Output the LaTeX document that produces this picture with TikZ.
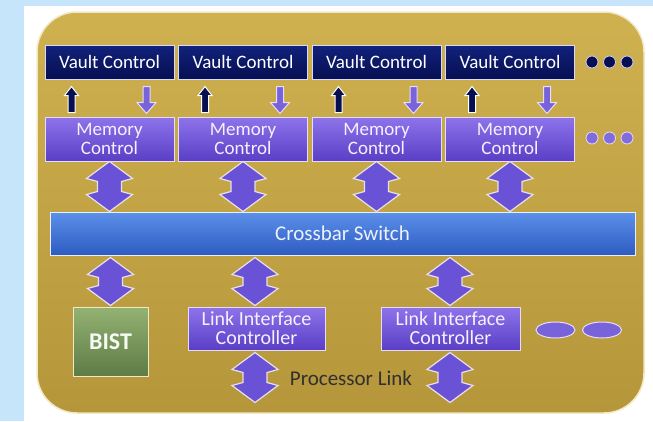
\documentclass[tikz,border=0pt]{standalone}
\usepackage{fontspec}
\setmainfont{Carlito}
\usetikzlibrary{shapes.geometric,calc}
\definecolor{skyblue}{HTML}{C6E5FB}
\definecolor{goldtop}{HTML}{CFB150}
\definecolor{goldbot}{HTML}{B5963A}
\definecolor{goldrim}{HTML}{F2E8C4}
\definecolor{navytop}{HTML}{12227C}
\definecolor{navybot}{HTML}{060F52}
\definecolor{purptop}{HTML}{8E74EA}
\definecolor{purpbot}{HTML}{5A3EC6}
\definecolor{purpfill}{HTML}{6A52D6}
\definecolor{purprim}{HTML}{E4DCF8}
\definecolor{bluetop}{HTML}{5C90EA}
\definecolor{bluebot}{HTML}{2E5CC2}
\definecolor{greentop}{HTML}{94B272}
\definecolor{greenbot}{HTML}{5D7C46}
\definecolor{inktext}{HTML}{303030}
\tikzset{
  box/.style={rectangle, inner sep=0pt, line width=1pt, align=center},
  vault/.style={box, top color=navytop, bottom color=navybot, draw=white!85!blue,
    minimum width=129pt, minimum height=34pt, text=white,
    font=\fontsize{19}{19}\selectfont},
  memctl/.style={box, top color=purptop, bottom color=purpbot, draw=purprim,
    minimum width=129pt, minimum height=44pt, text=white!90!purptop,
    font=\fontsize{19}{19.5}\selectfont},
  xbarbox/.style={box, top color=bluetop, bottom color=bluebot, draw=white!85!bluetop,
    minimum width=585pt, minimum height=43pt, text=white!88!bluetop,
    font=\fontsize{21}{21}\selectfont},
  bistbox/.style={box, top color=greentop, bottom color=greenbot, draw=goldrim,
    minimum width=75pt, minimum height=69pt, text=white!92!greentop,
    font=\fontsize{24}{24}\selectfont\bfseries},
  licbox/.style={box, top color=purptop, bottom color=purpbot, draw=purprim,
    minimum height=43pt, text=white!90!purptop,
    font=\fontsize{20}{19}\selectfont},
  navydot/.style={circle, inner sep=0pt, minimum size=12pt, fill=navybot, draw=white!80!blue, line width=0.8pt},
  purpdot/.style={circle, inner sep=0pt, minimum size=12pt, fill=purpfill!85!white, draw=purprim, line width=0.8pt},
  purpoval/.style={ellipse, inner sep=0pt, minimum width=39pt, minimum height=16pt, fill=purpfill!90!white, draw=purprim, line width=1pt},
  bigarrow/.style={fill=purpfill, draw=purprim!70!goldrim, line width=1.2pt, line join=miter},
  uparrow/.style={fill=navybot, draw=white, line width=1pt},
  dnarrow/.style={fill=purpfill!90!white, draw=purprim, line width=1pt},
  pics/dblarr/.style={code={
    \draw[bigarrow] (0,0) -- (23,17) -- (12,20) -- (12,{#1-20}) -- (23,{#1-17})
      -- (0,#1) -- (-23,{#1-17}) -- (-12,{#1-20}) -- (-12,20) -- (-23,17) -- cycle;}},
  pics/uparr/.style={code={
    \draw[uparrow] (0,0) -- (7,9) -- (3.5,9) -- (3.5,26) -- (-3.5,26) -- (-3.5,9) -- (-7,9) -- cycle;}},
  pics/dnarr/.style={code={
    \draw[dnarrow] (-3.5,0) -- (3.5,0) -- (3.5,16) -- (9.5,16) -- (0,27) -- (-9.5,16) -- (-3.5,16) -- cycle;}},
}
\begin{document}
\begin{tikzpicture}[x=1pt,y=-1pt]
\useasboundingbox (0,0) rectangle (653,421);
% page backdrop
\fill[skyblue] (0,0) rectangle (653,421);
\fill[white] (24,6) rectangle (653,421);
% gold die outline
\shade[top color=goldtop, bottom color=goldbot, rounded corners=40pt]
  (37,12) rectangle (644,413);
\draw[goldrim, line width=1.5pt, rounded corners=40pt] (37,12) rectangle (644,413);

% vault and memory controllers
\foreach \i/\cx in {1/109.5, 2/243, 3/376.5, 4/510} {
  \node[vault] (vc\i) at (\cx,62) {Vault Control};
  \node[memctl] (mc\i) at (\cx,139) {Memory\\Control};
  \pic at ($(vc\i.south west)+(27,7)$) {uparr};
  \pic at ($(vc\i.south west)+(102,7)$) {dnarr};
}
\node[navydot] (nd1) at (592,62) {};
\node[navydot] (nd2) at (609.5,62) {};
\node[navydot] (nd3) at (627,62) {};
\node[purpdot] (pd1) at (592,138) {};
\node[purpdot] (pd2) at (609.5,138) {};
\node[purpdot] (pd3) at (627,138) {};

% crossbar
\node[xbarbox] (xbar) at (342.5,233.5) {Crossbar Switch};
\foreach \i in {1,...,4}
  \pic at (mc\i.south) {dblarr=50};

% lower blocks
\node[bistbox] (bist) at (110.5,341.5) {BIST};
\node[licbox, minimum width=137pt] (lic1) at (256.5,328.5) {Link Interface\\Controller};
\node[licbox, minimum width=139pt] (lic2) at (450.5,328.5) {Link Interface\\Controller};
\node[purpoval] (ov1) at (555.5,330) {};
\node[purpoval] (ov2) at (602,330) {};

\pic at ($(bist.north |- xbar.south)+(0,2)$) {dblarr=48};
\pic at ($(lic1.north |- xbar.south)+(-1.5,2)$) {dblarr=48};
\pic at ($(lic2.north |- xbar.south)+(-0.5,2)$) {dblarr=48};
\pic at ($(lic1.south)+(-1.5,2)$) {dblarr=50};
\pic at ($(lic2.south)+(-0.5,2)$) {dblarr=50};

\node[anchor=base, text=inktext, font=\fontsize{21}{21}\selectfont, inner sep=0pt]
  (plink) at (351,385) {Processor Link};
\end{tikzpicture}
\end{document}
